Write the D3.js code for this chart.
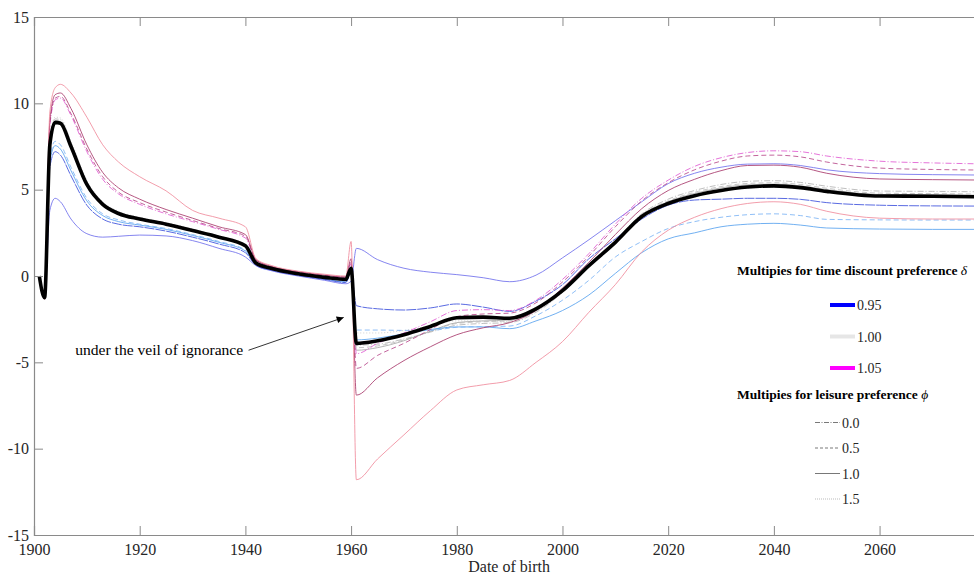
<!DOCTYPE html>
<html><head><meta charset="utf-8">
<script src="https://cdn.jsdelivr.net/npm/d3@7"></script>
<style>
body{margin:0;background:#fff;}
text{font-family:"Liberation Serif","Times New Roman",serif;}
</style></head>
<body><svg id="c" width="974" height="574"></svg>
<script>
const years = [1901,1902,1903,1904,1905,1907,1910,1913,1916,1920,1925,1930,1935,1940,1942,1945,1950,1955,1959,1960,1961,1965,1970,1975,1980,1985,1990,1995,2000,2005,2010,2015,2020,2025,2030,2035,2040,2045,2050,2060,2070,2078];

// mean / benchmark (thick black)
const meanLine = [0,-1.25,7.6,8.9,8.85,7.5,5.3,4.15,3.62,3.3,3.0,2.63,2.25,1.75,0.75,0.43,0.13,-0.08,-0.2,0.45,-3.9,-3.75,-3.4,-2.92,-2.42,-2.38,-2.45,-1.9,-0.85,0.6,1.95,3.45,4.2,4.65,4.95,5.15,5.22,5.12,4.9,4.63,4.62,4.59];

// delta = 0.95 (blue family), phi = 0.0, 0.5, 1.0, 1.5
const d095_p00 = [0,-1.25,6.6,7.55,7.35,6.1,4.35,3.5,3.15,2.95,2.7,2.35,1.95,1.45,0.63,0.34,0.04,-0.18,-0.35,0.3,-3.7,-3.6,-3.35,-3.1,-2.95,-2.95,-3.05,-2.6,-2.0,-1.1,0.15,1.35,2.15,2.5,2.85,3.0,3.05,2.95,2.78,2.72,2.7,2.7];
const d095_p05 = [0,-1.25,6.8,7.8,7.6,6.3,4.5,3.6,3.25,3.0,2.75,2.4,2.0,1.5,0.65,0.36,0.06,-0.17,-0.32,0.35,-3.13,-3.13,-3.15,-3.15,-2.97,-2.93,-2.9,-2.3,-1.4,-0.25,1.1,2.0,2.75,3.15,3.4,3.55,3.6,3.5,3.28,3.25,3.24,3.24];
const d095_p10 = [0,-1.25,6.3,7.2,7.0,5.8,4.1,3.3,3.0,2.85,2.6,2.25,1.85,1.35,0.62,0.33,0.03,-0.2,-0.38,0.2,-1.72,-1.9,-1.97,-1.85,-1.62,-1.8,-2.05,-1.45,-0.5,1.0,2.15,3.3,4.1,4.4,4.45,4.5,4.5,4.44,4.25,4.1,4.06,4.05];
const d095_p15 = [0,-1.1,3.8,4.5,4.3,3.3,2.45,2.25,2.3,2.37,2.32,2.05,1.6,1.1,0.6,0.3,0.0,-0.25,-0.45,-0.3,1.6,0.95,0.45,0.22,0.08,-0.1,-0.33,0.05,1.05,2.1,3.2,4.3,5.35,5.95,6.3,6.48,6.5,6.4,6.15,5.93,5.87,5.85];

// delta = 1.00 (grey family)
const d100_p00 = [0,-1.2,7.7,9.1,9.05,7.7,5.45,4.25,3.7,3.38,3.07,2.7,2.3,1.8,0.78,0.45,0.15,-0.06,-0.18,0.5,-4.0,-3.95,-3.65,-3.25,-2.85,-2.75,-2.7,-2.1,-0.95,0.6,2.05,3.6,4.45,4.95,5.3,5.48,5.52,5.42,5.2,4.92,4.9,4.88];
const d100_p05 = [0,-1.22,7.65,9.0,8.95,7.6,5.38,4.2,3.66,3.34,3.04,2.66,2.27,1.77,0.76,0.44,0.14,-0.07,-0.19,0.48,-4.15,-4.05,-3.7,-3.2,-2.75,-2.65,-2.6,-2.0,-0.9,0.6,2.0,3.55,4.35,4.85,5.18,5.36,5.4,5.3,5.08,4.8,4.77,4.75];
const d100_p10 = [0,-1.25,7.62,8.95,8.9,7.55,5.35,4.18,3.64,3.32,3.02,2.64,2.26,1.76,0.75,0.43,0.13,-0.08,-0.2,0.47,-4.3,-4.15,-3.75,-3.2,-2.7,-2.6,-2.55,-1.98,-0.88,0.58,1.98,3.5,4.3,4.78,5.1,5.28,5.32,5.22,5.0,4.72,4.7,4.68];
const d100_p15 = [0,-1.2,7.7,9.2,9.15,7.8,5.55,4.3,3.75,3.4,3.1,2.72,2.32,1.82,0.8,0.46,0.16,-0.05,-0.17,0.6,-3.3,-3.3,-3.15,-2.9,-2.6,-2.6,-2.65,-2.05,-0.95,0.5,1.9,3.35,4.15,4.6,4.92,5.1,5.15,5.05,4.85,4.6,4.58,4.55];

// delta = 1.05 (magenta family)
const d105_p00 = [0,-1.3,8.7,10.2,10.3,9.3,7.2,5.6,4.75,4.15,3.6,3.15,2.7,2.2,0.9,0.52,0.22,0.02,-0.1,0.7,-4.5,-3.9,-3.3,-2.65,-2.0,-1.95,-2.0,-1.4,-0.2,1.3,3.0,4.5,5.55,6.35,6.85,7.15,7.25,7.2,6.95,6.65,6.55,6.5];
const d105_p05 = [0,-1.3,8.8,10.3,10.4,9.4,7.35,5.75,4.85,4.25,3.7,3.22,2.75,2.3,0.92,0.53,0.23,0.03,-0.08,0.8,-5.35,-4.6,-3.9,-3.1,-2.35,-2.2,-2.15,-1.55,-0.35,1.15,2.85,4.35,5.4,6.15,6.65,6.95,7.0,6.9,6.6,6.25,6.17,6.14];
const d105_p10 = [0,-1.3,9.0,10.5,10.6,9.7,7.6,6.0,5.1,4.45,3.85,3.35,2.85,2.4,0.95,0.55,0.25,0.05,-0.05,1.0,-6.9,-5.9,-4.9,-4.1,-3.4,-3.0,-2.7,-2.0,-0.7,0.8,2.4,3.9,4.95,5.6,6.1,6.4,6.42,6.3,5.95,5.62,5.58,5.56];
const d105_p15 = [0,-1.35,9.5,10.9,11.1,10.6,9.2,7.6,6.6,5.75,4.93,3.8,3.35,2.85,1.0,0.6,0.28,0.1,0.0,2.0,-11.8,-10.6,-9.2,-7.8,-6.6,-6.3,-6.05,-5.0,-3.8,-2.1,-0.5,1.4,2.65,3.4,3.9,4.2,4.3,4.15,3.75,3.35,3.3,3.3];

const xTicks = [1900,1920,1940,1960,1980,2000,2020,2040,2060];
const yTicks = [-15,-10,-5,0,5,10,15];
const deltaLabels = ["0.95","1.00","1.05"];
const phiLabels = ["0.0","0.5","1.0","1.5"];

const series = [
  {v:d100_p00,c:"#b4b4b4",d:"6,2,1,2"},
  {v:d100_p05,c:"#bcbcbc",d:"5,3"},
  {v:d100_p10,c:"#a8a8a8",d:null},
  {v:d100_p15,c:"#c8c8c8",d:"1,2"},
  {v:d095_p00,c:"#58a2ee",d:null},
  {v:d095_p05,c:"#7cb4f4",d:"5,3"},
  {v:d095_p10,c:"#3c50dc",d:"10,1"},
  {v:d095_p15,c:"#7070ec",d:null},
  {v:d105_p00,c:"#e05ad2",d:"6,2,1,2"},
  {v:d105_p05,c:"#b84a8c",d:"5,3"},
  {v:d105_p10,c:"#a83a6c",d:null},
  {v:d105_p15,c:"#f08c9c",d:null}
];

const svg = d3.select("#c");
const x = d3.scaleLinear().domain([1900,2078]).range([34,974.7]);
const y = d3.scaleLinear().domain([-15,15]).range([535,17]);
const axisCol = "#8a8a8a", txtCol = "#262626";

const line = d3.line().x((d,i)=>x(years[i])).y(d=>y(d)).curve(d3.curveMonotoneX);

const g = svg.append("g");
series.forEach(s=>{
  g.append("path").attr("d",line(s.v)).attr("fill","none")
   .attr("stroke",s.c).attr("stroke-width",1).attr("stroke-opacity",0.85)
   .attr("stroke-dasharray",s.d);
});
g.append("path").attr("d",line(meanLine)).attr("fill","none")
 .attr("stroke","#000").attr("stroke-width",3.6).attr("stroke-linejoin","round");

// axes
const axB = svg.append("g").attr("transform","translate(0,535)")
  .call(d3.axisBottom(x).tickValues(xTicks).tickSize(-9).tickPadding(9).tickFormat(d3.format("d")));
const axT = svg.append("g").attr("transform","translate(0,17)")
  .call(d3.axisTop(x).tickValues(xTicks).tickSize(-9).tickFormat(""));
const axL = svg.append("g").attr("transform","translate(34,0)")
  .call(d3.axisLeft(y).tickValues(yTicks).tickSize(-9).tickPadding(5).tickFormat(d3.format("d")));
[axB,axT,axL].forEach(a=>{
  a.select(".domain").attr("stroke",axisCol).attr("stroke-width",1.2);
  a.selectAll(".tick line").attr("stroke",axisCol);
  a.selectAll(".tick text").attr("fill",txtCol).style("font-size","16px").style("font-family","Liberation Serif");
});
axL.selectAll(".tick text").text(d=>d<0?"-"+Math.abs(d):d);

svg.append("text").attr("x",x(1989.9)).attr("y",572).attr("text-anchor","middle")
  .attr("fill",txtCol).style("font-size","16px").text("Date of birth");

// annotation
svg.append("defs").append("marker").attr("id","ah").attr("viewBox","0 0 10 10")
  .attr("refX",10).attr("refY",5).attr("markerWidth",9).attr("markerHeight",7)
  .attr("orient","auto").attr("markerUnits","userSpaceOnUse")
  .append("path").attr("d","M0,0L10,5L0,10Z").attr("fill","#000");
svg.append("text").attr("x",x(1907.8)).attr("y",y(-4.3)+5).attr("fill","#000")
  .style("font-size","15.6px").text("under the veil of ignorance");
svg.append("line").attr("x1",x(1940.6)).attr("y1",y(-4.3)).attr("x2",x(1958.6)).attr("y2",y(-2.4))
  .attr("stroke","#000").attr("stroke-width",0.8).attr("marker-end","url(#ah)");

// legend
const lg = svg.append("g");
const t1 = lg.append("text").attr("x",737).attr("y",275).attr("font-weight","bold").attr("fill","#000")
  .style("font-size","13.5px");
t1.append("tspan").text("Multipies for time discount preference ");
t1.append("tspan").attr("font-style","italic").attr("font-weight","normal").text("δ");
const dCols = ["#0000ff","#e6e6e6","#ff00ff"];
deltaLabels.forEach((t,i)=>{
  const yy = 305 + i*31.5;
  lg.append("line").attr("x1",830).attr("x2",855).attr("y1",yy).attr("y2",yy)
    .attr("stroke",dCols[i]).attr("stroke-width",4);
  lg.append("text").attr("x",857).attr("y",yy+5).attr("fill",txtCol).style("font-size","14px").text(t);
});
const t2 = lg.append("text").attr("x",737).attr("y",399).attr("font-weight","bold").attr("fill","#000")
  .style("font-size","13.5px");
t2.append("tspan").text("Multipies for leisure preference ");
t2.append("tspan").attr("font-style","italic").attr("font-weight","normal").text("ϕ");
const pDash = ["5,1.5,1,1.5","3,2","","1,1"];
const pCol = ["#555","#555","#555","#aaa"];
phiLabels.forEach((t,i)=>{
  const yy = 422.5 + i*25.5;
  lg.append("line").attr("x1",815).attr("x2",840).attr("y1",yy).attr("y2",yy)
    .attr("stroke",pCol[i]).attr("stroke-width",0.8).attr("stroke-dasharray",pDash[i]||null);
  lg.append("text").attr("x",842).attr("y",yy+5).attr("fill",txtCol).style("font-size","14px").text(t);
});
</script></body></html>
